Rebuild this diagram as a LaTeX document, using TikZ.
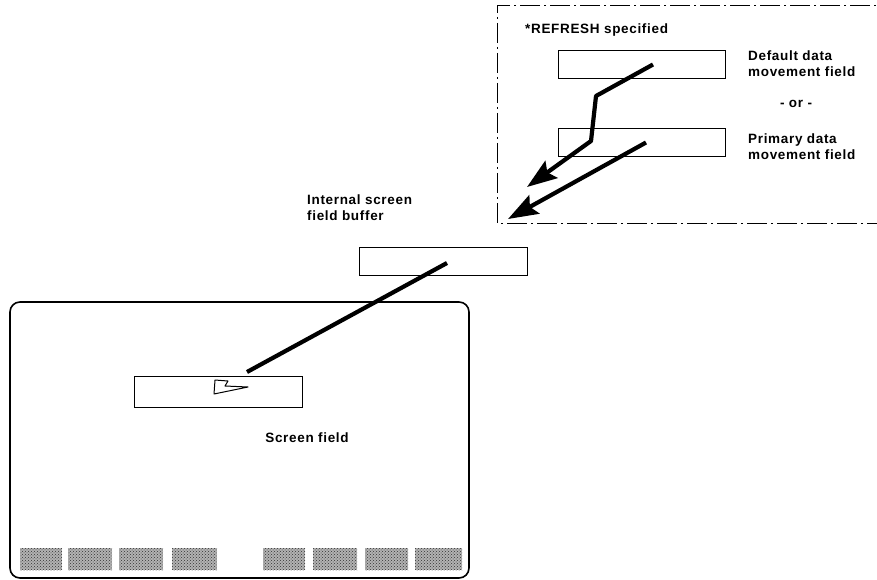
\documentclass[tikz,border=0pt]{standalone}
\usepackage{fontspec}
\setmainfont{Liberation Sans}[LetterSpace=5]
\usetikzlibrary{arrows.meta,patterns}
\begin{document}
\begin{tikzpicture}[x=1pt,y=-1pt,
  lbl/.style={font=\fontsize{13.5}{16}\selectfont\bfseries, inner sep=0pt, align=left},
  fieldbox/.style={draw, line width=1pt, minimum width=#1, minimum height=28pt, inner sep=0pt},
  flow/.style={line width=4.2pt},
  bigarrow/.style={line width=4.2pt, -{Stealth[length=30pt,width=21pt,inset=5pt]}},
  softkey/.style={fill=black!30, postaction={pattern=crosshatch dots, pattern color=black!80}, draw=none, minimum width=#1, minimum height=22pt, inner sep=0pt}
]
\useasboundingbox (0,0) rectangle (877,580);

% option panel (dash-dot frame, open to the right)
\draw[line width=1pt, dash pattern=on 20pt off 4pt on 2pt off 4pt]
  (900,6) -- (497,6) -- (497,223) -- (900,223);

\node[lbl, anchor=west] (refresh) at (525,30) {*REFRESH specified};

\node[fieldbox=167pt, anchor=north west] (dflt) at (558,50) {};
\node[fieldbox=167pt, anchor=north west] (prim) at (558,128) {};

\node[lbl, anchor=west] (dflttxt) at (748,64) {Default data\\movement field};
\node[lbl] (ortxt) at (796,104) {- or -};
\node[lbl, anchor=west] (primtxt) at (748,147) {Primary data\\movement field};

% data movement arrows
\coordinate (d0) at ([xshift=-73pt,yshift=0pt]dflt.east);
\coordinate (a1) at (527,187);
\coordinate (p0) at ([xshift=-80pt,yshift=0pt]prim.east);
\coordinate (a2) at (508,219);
\draw[bigarrow, line join=round] (d0) -- (596,96) -- (591,141) -- (a1);
\draw[bigarrow] (p0) -- (a2);

% internal buffer
\node[lbl, anchor=west] (buftxt) at (307,208) {Internal screen\\field buffer};
\node[fieldbox=168pt, anchor=north west] (buf) at (359,247) {};

% display screen
\draw[line width=1.6pt, rounded corners=10pt] (10,302) rectangle (469,578);
\node[fieldbox=168pt, minimum height=31pt, anchor=north west] (scr) at (134,376) {};
\node[lbl] (scrtxt) at (307,438) {Screen field};

% transfer to the screen field
\coordinate (b0) at (447,263);
\coordinate (s0) at (247,372);
\draw[flow] (b0) -- (s0);
\draw[line width=1pt, line join=round] (215,380) -- (228,381) -- (225,386) -- (248,387) -- (214,394) -- cycle;

% function key labels
\foreach \xa/\xb [count=\i] in {20/62, 68/112, 119/163, 172/217, 263/305, 313/357, 365/408, 415/462} {
  \node[softkey=\xb pt-\xa pt, anchor=north west] (key\i) at (\xa,548) {};
}
\end{tikzpicture}
\end{document}
